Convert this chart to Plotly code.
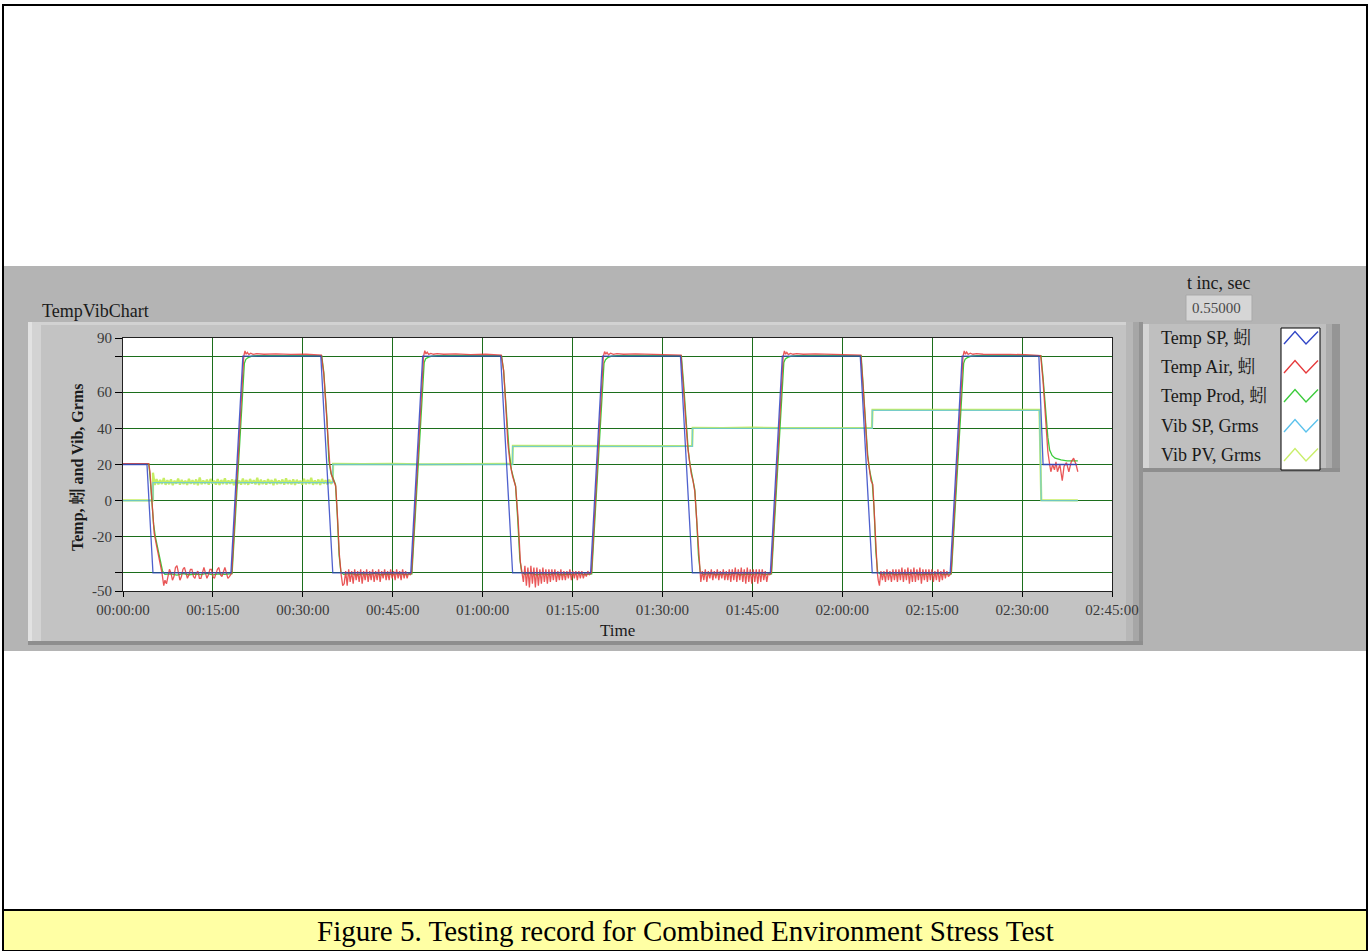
import plotly.graph_objects as go

W, H = 1371, 951
FONT = "Liberation Serif, Noto Serif CJK SC, Noto Sans CJK SC, serif"

# ---------------- axis ticks ----------------
x_tick_vals = [0, 15, 30, 45, 60, 75, 90, 105, 120, 135, 150, 165]
x_tick_text = ["00:00:00", "00:15:00", "00:30:00", "00:45:00", "01:00:00", "01:15:00",
               "01:30:00", "01:45:00", "02:00:00", "02:15:00", "02:30:00", "02:45:00"]
y_tick_vals = [-50, -40, -20, 0, 20, 40, 60, 80, 90]
y_tick_text = ["-50", "", "-20", "0", "20", "40", "60", "", "90"]

series_names = ["Temp SP, 蚓", "Temp Air, 蚓", "Temp Prod, 蚓", "Vib SP, Grms", "Vib PV, Grms"]
series_colors = ["#3146C6", "#E63A3C", "#3CCB3C", "#5CC2EC", "#C9EE6A"]

# ---------------- data (time in minutes) ----------------
sp_t = [0, 4.0, 5.0, 18.0, 20.0, 33.0, 35.0, 48.0, 50.0, 63.0, 65.0, 78.0, 80.0,
        93.0, 95.0, 108.0, 110.0, 123.0, 125.0, 138.0, 140.0, 152.8, 153.5, 159.2]
sp_v = [20, 20, -40, -40, 80, 80, -40, -40, 80, 80, -40, -40, 80,
        80, -40, -40, 80, 80, -40, -40, 80, 80, 20, 20]

vib_sp_t = [0, 5.0, 5.0, 35.0, 35.0, 65.0, 65.0, 95.0, 95.0, 125.0, 125.0, 152.9, 153.2, 159.3]
vib_sp_v = [0, 0, 10, 10, 20, 20, 30, 30, 40, 40, 50, 50, 0, 0]

# Temp Air: ramps / high plateaus
air_key = [
    [(0.0, 20.5), (4.3, 20.5), (4.5, 16.0), (4.7, 5.0), (5.0, -10.0), (5.2, -18.0), (5.6, -25.0),
     (6.1, -33.0), (6.5, -40.0), (6.8, -47.0)],
    [(18.15, -40.0), (20.15, 80.0), (20.35, 82.8), (20.55, 81.0), (20.75, 82.0), (21.0, 80.8),
     (21.3, 81.6), (21.7, 80.9), (22.3, 81.3), (23.5, 81.0), (25.5, 81.2), (28.0, 80.9), (30.5, 81.0),
     (33.1, 80.5), (33.5, 70.0), (34.0, 45.0), (34.5, 20.0), (34.8, 14.0), (35.2, 11.0), (35.5, 8.0),
     (35.8, -10.0), (36.1, -30.0), (36.4, -41.0), (36.65, -47.0)],
    [(48.15, -40.0), (50.15, 80.0), (50.35, 83.0), (50.55, 81.2), (50.75, 82.2), (51.0, 80.9),
     (51.35, 81.5), (51.8, 81.0), (52.4, 81.4), (53.5, 81.0), (55.5, 81.2), (58.0, 80.8), (60.5, 81.0),
     (63.1, 80.5), (63.5, 72.0), (63.8, 56.0), (64.2, 32.0), (64.6, 20.0), (65.0, 13.5), (65.5, 8.0),
     (65.9, -9.0), (66.3, -34.0), (66.55, -41.0)],
    [(78.15, -40.0), (80.15, 80.0), (80.35, 82.5), (80.55, 81.0), (80.75, 82.0), (81.0, 80.7),
     (81.35, 81.6), (81.8, 80.9), (82.4, 81.3), (83.5, 81.0), (85.5, 81.2), (88.0, 80.9), (90.5, 80.9),
     (93.1, 80.5), (93.4, 67.0), (93.9, 43.0), (94.2, 30.0), (94.5, 22.0), (94.8, 15.0), (95.1, 11.0),
     (95.4, 5.0), (95.7, -10.0), (96.0, -28.0), (96.25, -41.0)],
    [(108.15, -40.0), (110.15, 80.0), (110.35, 82.8), (110.55, 81.0), (110.75, 82.0), (111.0, 80.8),
     (111.35, 81.5), (111.8, 81.0), (112.4, 81.3), (113.5, 81.0), (115.5, 81.2), (118.0, 80.9),
     (120.5, 81.0), (123.1, 80.5), (123.5, 62.0), (123.8, 43.0), (124.2, 25.0), (124.5, 18.0),
     (124.8, 11.0), (125.1, 9.0), (125.3, -5.0), (125.6, -30.0), (125.85, -40.0), (126.0, -44.0)],
    [(138.15, -40.0), (140.15, 80.0), (140.35, 82.8), (140.55, 81.0), (140.75, 82.2), (141.0, 80.9),
     (141.35, 81.6), (141.8, 81.0), (142.4, 81.3), (143.5, 81.0), (145.5, 81.1), (148.0, 80.9),
     (150.5, 80.8), (153.1, 80.3), (153.5, 66.0), (154.0, 40.0), (154.3, 27.0), (154.6, 20.0),
     (154.8, 16.0), (155.1, 20.0), (155.4, 17.0), (155.65, 21.5), (155.9, 16.0), (156.3, 20.0),
     (156.7, 11.0), (157.0, 19.0), (157.4, 21.0), (157.8, 16.0), (158.2, 21.5), (158.6, 23.5),
     (159.0, 20.0), (159.3, 16.0)],
]
# Temp Air: oscillation on the cold plateaus (sampled evenly between start and end)
air_low_start = [7.0, 36.9, 66.8, 96.4, 126.2]
air_low_end = [18.0, 47.9, 77.8, 107.9, 137.95]
air_low_vals = [
    [-44, -46, -41, -38, -40, -44, -42, -37, -36, -40, -44, -42, -38, -37, -41, -43, -41, -38, -38,
     -42, -43, -40, -39, -43, -43, -39, -37, -40, -43, -41, -38, -38, -42, -43, -40, -38, -37, -41,
     -42, -39, -37, -40, -43, -42, -41],
    [-46, -39, -47, -38, -45, -39, -46, -38, -44, -39, -45, -38, -46, -39, -44, -38, -45, -39, -44,
     -38, -45, -39, -44, -38, -45, -39, -43, -38, -44, -39, -44, -38, -43, -39, -44, -38, -43, -39,
     -44, -38, -43, -39, -43, -40, -41],
    [-45, -36, -47, -37, -48, -36, -46, -37, -48, -37, -47, -38, -46, -37, -45, -38, -46, -38, -45,
     -38, -44, -38, -45, -39, -44, -38, -44, -39, -44, -39, -43, -38, -44, -39, -43, -39, -44, -39,
     -43, -39, -43, -40, -42, -39, -41],
    [-45, -39, -44, -38, -45, -39, -43, -38, -44, -39, -43, -38, -44, -39, -43, -38, -44, -39, -44,
     -38, -45, -38, -44, -37, -45, -38, -44, -37, -45, -38, -46, -37, -45, -38, -46, -38, -45, -38,
     -46, -38, -45, -38, -44, -39, -45, -40, -41],
    [-47, -39, -44, -39, -45, -38, -44, -39, -45, -38, -44, -38, -45, -38, -44, -37, -45, -38, -44,
     -37, -46, -38, -45, -37, -45, -38, -44, -37, -46, -38, -44, -38, -45, -38, -44, -38, -45, -39,
     -44, -38, -45, -39, -44, -38, -43, -39, -42, -41],
]

# Temp Prod
prod_pts = [
    (0.0, 20.3), (4.3, 20.3), (4.5, 14.0), (4.8, 1.0), (5.1, -13.0), (5.4, -20.0), (5.8, -26.0),
    (6.2, -33.0), (6.6, -39.0), (7.0, -40.8), (8, -40.5), (9, -41.2), (10, -40.4), (11, -41.0),
    (12, -40.6), (13, -40.9), (14, -40.3), (15, -41.1), (16, -40.5), (17, -40.8), (18.2, -40.4),
    (20.25, 76.0), (20.5, 78.2), (20.9, 79.2), (21.5, 79.9), (22.5, 80.3), (26, 80.4), (30, 80.3),
    (33.15, 80.3), (33.5, 71.0), (34.0, 47.0), (34.35, 22.0), (34.7, 15.0), (35.1, 12.0), (35.45, 9.0),
    (35.75, -8.0), (36.05, -30.0), (36.35, -39.5), (36.8, -40.8), (38, -40.4), (39, -41.0), (40, -40.5),
    (41, -40.9), (42, -40.3), (43, -41.0), (44, -40.6), (45, -40.8), (46, -40.4), (47, -40.9),
    (48.2, -40.5), (50.25, 76.5), (50.5, 78.5), (50.9, 79.3), (51.5, 79.9), (52.5, 80.3), (56, 80.4),
    (60, 80.3), (63.15, 80.3), (63.5, 72.0), (64.0, 48.0), (64.4, 28.0), (64.8, 17.0), (65.1, 13.0),
    (65.5, 8.0), (65.85, -10.0), (66.2, -32.0), (66.5, -39.5), (67, -40.8), (68, -40.3), (69, -41.1),
    (70, -40.5), (71, -40.9), (72, -40.4), (73, -41.0), (74, -40.6), (75, -40.8), (76, -40.3),
    (77, -40.9), (78.2, -40.5), (80.25, 76.0), (80.5, 78.0), (80.9, 79.2), (81.5, 79.9), (82.5, 80.3),
    (86, 80.4), (90, 80.3), (93.15, 80.3), (93.5, 66.0), (93.9, 46.0), (94.3, 28.0), (94.6, 20.0),
    (95.0, 13.0), (95.4, 6.0), (95.7, -10.0), (96.0, -30.0), (96.3, -39.5), (96.8, -40.8),
    (98, -40.4), (99, -41.0), (100, -40.5), (101, -40.9), (102, -40.3), (103, -41.1), (104, -40.6),
    (105, -40.8), (106, -40.4), (107, -40.9), (108.2, -40.5), (110.25, 76.5), (110.5, 78.4),
    (110.9, 79.3), (111.5, 79.9), (112.5, 80.3), (116, 80.4), (120, 80.3), (123.15, 80.3),
    (123.5, 63.0), (123.9, 43.0), (124.25, 25.0), (124.6, 16.0), (125.0, 10.0), (125.3, -4.0),
    (125.6, -28.0), (125.9, -39.5), (126.4, -40.8), (128, -40.4), (129, -41.0), (130, -40.5),
    (131, -40.9), (132, -40.3), (133, -41.0), (134, -40.6), (135, -40.8), (136, -40.4), (137, -40.9),
    (138.2, -40.5), (140.25, 76.0), (140.5, 78.3), (140.9, 79.2), (141.5, 79.9), (142.5, 80.3),
    (146, 80.4), (150, 80.3), (153.15, 80.3), (153.5, 68.0), (154.0, 45.0), (154.3, 35.0),
    (154.6, 28.0), (155.0, 25.0), (155.5, 23.5), (156.5, 22.5), (157.5, 22.0), (158.5, 22.2),
    (159.3, 22.0),
]

# Vib PV: noisy reading around 10 Grms (evenly sampled from 5.0 to 35.0 min)
pv_noise_start, pv_noise_end = 5.0, 35.0
pv_noise_vals = [15.5, 8.7, 11.9, 9.0, 11.4, 9.2, 12.5, 8.8, 11.3, 9.1, 11.8, 8.6, 11.0, 9.4, 12.2,
                 8.9, 11.5, 9.2, 11.0, 8.7, 12.1, 9.3, 11.3, 9.0, 11.7, 8.5, 12.8, 9.1, 11.2, 9.3,
                 11.6, 8.8, 12.0, 9.5, 11.0, 8.9, 11.9, 8.7, 11.4, 9.2, 12.3, 9.0, 11.2, 9.3, 11.8,
                 8.6, 11.5, 9.4, 11.1, 8.9, 12.2, 9.1, 11.4, 8.8, 12.0, 9.5, 11.3, 9.0, 12.6, 8.7,
                 11.6, 9.2, 11.2, 8.9, 11.9, 9.4, 11.4, 8.6, 12.1, 9.1, 11.1, 9.3, 11.7, 8.8, 12.4,
                 9.2, 11.3, 9.0, 11.8, 8.7, 11.5, 9.5, 11.0, 8.9, 12.0, 9.1, 11.4, 9.3, 12.7, 8.8,
                 11.2, 9.2, 11.7, 8.7, 12.0, 9.4, 11.3, 9.0, 11.6, 9.3, 10.8]
pv_head = [(0.0, 0.1), (5.0, 0.1)]
pv_tail = [(35.05, 20.3), (40, 20.2), (45, 20.4), (50, 20.1), (55, 20.3), (60, 20.2), (64.95, 20.3),
           (65.05, 30.3), (70, 30.2), (75, 30.4), (80, 30.1), (85, 30.3), (90, 30.2), (94.95, 30.3),
           (95.05, 40.3), (100, 40.2), (105, 40.4), (110, 40.1), (115, 40.3), (120, 40.2), (124.95, 40.3),
           (125.05, 50.3), (130, 50.2), (135, 50.4), (140, 50.1), (145, 50.3), (150, 50.2), (152.9, 50.2),
           (153.2, 0.2), (159.3, 0.1)]


def even(start, end, vals):
    n = len(vals)
    return [start + (end - start) * i / (n - 1) for i in range(n)]


air_t, air_v = [], []
for i, seg in enumerate(air_key):
    air_t += [p[0] for p in seg]
    air_v += [p[1] for p in seg]
    if i < len(air_low_vals):
        air_t += even(air_low_start[i], air_low_end[i], air_low_vals[i])
        air_v += air_low_vals[i]

prod_t = [p[0] for p in prod_pts]
prod_v = [p[1] for p in prod_pts]

pv_t = [p[0] for p in pv_head] + even(pv_noise_start, pv_noise_end, pv_noise_vals) + [p[0] for p in pv_tail]
pv_v = [p[1] for p in pv_head] + pv_noise_vals + [p[1] for p in pv_tail]

# ---------------- figure ----------------
def X(px):
    return px / W


def Y(py):
    return 1 - py / H


fig = go.Figure()
fig.add_trace(go.Scatter(x=pv_t, y=pv_v, name=series_names[4], mode="lines", opacity=0.85,
                         line=dict(color="#BDEC48", width=2.2)))
fig.add_trace(go.Scatter(x=vib_sp_t, y=vib_sp_v, name=series_names[3], mode="lines", opacity=0.75,
                         line=dict(color=series_colors[3], width=1.3)))
fig.add_trace(go.Scatter(x=prod_t, y=prod_v, name=series_names[2], mode="lines",
                         line=dict(color=series_colors[2], width=1.3)))
fig.add_trace(go.Scatter(x=air_t, y=air_v, name=series_names[1], mode="lines", opacity=0.85,
                         line=dict(color=series_colors[1], width=1.3)))
fig.add_trace(go.Scatter(x=sp_t, y=sp_v, name=series_names[0], mode="lines", opacity=0.85,
                         line=dict(color=series_colors[0], width=1.3)))

shapes = []


def rect(x0, y0, x1, y1, fill, line_color=None, lw=0):
    shapes.append(dict(type="rect", xref="paper", yref="paper", x0=X(x0), x1=X(x1), y0=Y(y1), y1=Y(y0),
                       fillcolor=fill, line=dict(color=line_color or fill, width=lw), layer="below"))


# grey panel band
rect(4, 266, 1366, 651, "#B4B4B4")
# chart frame with bevel
rect(28, 322, 1143, 645, "#C3C3C3")
rect(28, 322, 1143, 325, "#D2D2D2")
rect(28, 322, 32, 645, "#E2E2E2")
rect(32, 322, 41, 645, "#D3D3D3")
rect(1126, 322, 1133, 645, "#B7B7B7")
rect(1133, 322, 1139, 645, "#A6A6A6")
rect(1139, 322, 1143, 645, "#929292")
rect(28, 641, 1143, 645, "#8E8E8E")
# plot area
rect(123, 338, 1112, 591, "#FFFFFF")
# legend frame
rect(1143, 324, 1340, 472, "#BFBFBF")
rect(1143, 324, 1149, 472, "#D4D4D4")
rect(1326, 324, 1332, 472, "#ABABAB")
rect(1332, 324, 1340, 472, "#959595")
rect(1143, 468, 1340, 472, "#8E8E8E")
rect(1281, 328, 1320, 470, "#FFFFFF", "#000000", 1)
# numeric indicator
rect(1186, 295, 1252, 321, "#D6D6D6", "#A9A9A9", 1)
# caption box
rect(3, 910, 1367, 951, "#FFFFA4", "#000000", 2)

legend_rows = [338, 367, 396, 426, 455]
for yc, col in zip(legend_rows, series_colors):
    path = "M {:.5f},{:.5f} L {:.5f},{:.5f} L {:.5f},{:.5f} L {:.5f},{:.5f}".format(
        X(1284), Y(yc + 6), X(1295), Y(yc - 6.5), X(1306), Y(yc + 6), X(1318), Y(yc - 6.5))
    shapes.append(dict(type="path", xref="paper", yref="paper", path=path,
                       line=dict(color=col, width=1.4)))

# outer page border (left, top, right)
shapes.append(dict(type="path", xref="paper", yref="paper",
                   path="M {:.5f},{:.5f} L {:.5f},{:.5f} L {:.5f},{:.5f} L {:.5f},{:.5f}".format(
                       X(3), Y(951), X(3), Y(5), X(1367), Y(5), X(1367), Y(951)),
                   line=dict(color="#000000", width=2)))

annotations = []


def text(s, x, y, size, xanchor="left", color="#1A1A1A", **kw):
    annotations.append(dict(text=s, x=X(x), y=Y(y), xref="paper", yref="paper", showarrow=False,
                            xanchor=xanchor, yanchor="middle", font=dict(family=FONT, size=size, color=color),
                            **kw))


text("TempVibChart", 40, 311, 18)
text("t inc, sec", 1218, 283, 18, xanchor="center")
text("0.55000", 1190, 308, 15, color="#4A4A4A")
for yc, name in zip(legend_rows, series_names):
    text(name, 1159, yc, 18)
text("<b>Temp, 蚓 and Vib, Grms</b>", 77, 468, 16, xanchor="center", textangle=-90)
text("Time", 617, 630, 17, xanchor="center")
text("Figure 5. Testing record for Combined Environment Stress Test", 685, 931, 29, xanchor="center",
     color="#000000")

fig.update_layout(
    width=W, height=H, margin=dict(l=0, r=0, t=0, b=0, pad=0, autoexpand=False),
    paper_bgcolor="#FFFFFF", plot_bgcolor="rgba(0,0,0,0)",
    showlegend=False, shapes=shapes, annotations=annotations,
    xaxis=dict(domain=[X(123), X(1112)], range=[0, 165], tickmode="array", tickvals=x_tick_vals,
               ticktext=x_tick_text, ticks="outside", ticklen=5, tickcolor="#000000", automargin=False,
               showgrid=True, gridcolor="#1C6E1C", gridwidth=1, zeroline=False,
               showline=True, linecolor="#222222", linewidth=1, mirror=True,
               tickfont=dict(family=FONT, size=15, color="#3A3A3A")),
    yaxis=dict(domain=[Y(591), Y(338)], range=[-50, 90], tickmode="array", tickvals=y_tick_vals,
               ticktext=y_tick_text, ticks="outside", ticklen=7, tickcolor="#000000", automargin=False,
               showgrid=True, gridcolor="#1C6E1C", gridwidth=1, zeroline=False,
               showline=True, linecolor="#222222", linewidth=1, mirror=True,
               tickfont=dict(family=FONT, size=15, color="#3A3A3A")),
)

fig.write_html("out.html", config={"displayModeBar": False},
               post_script="document.body.style.margin='0';document.body.style.overflow='hidden';")
